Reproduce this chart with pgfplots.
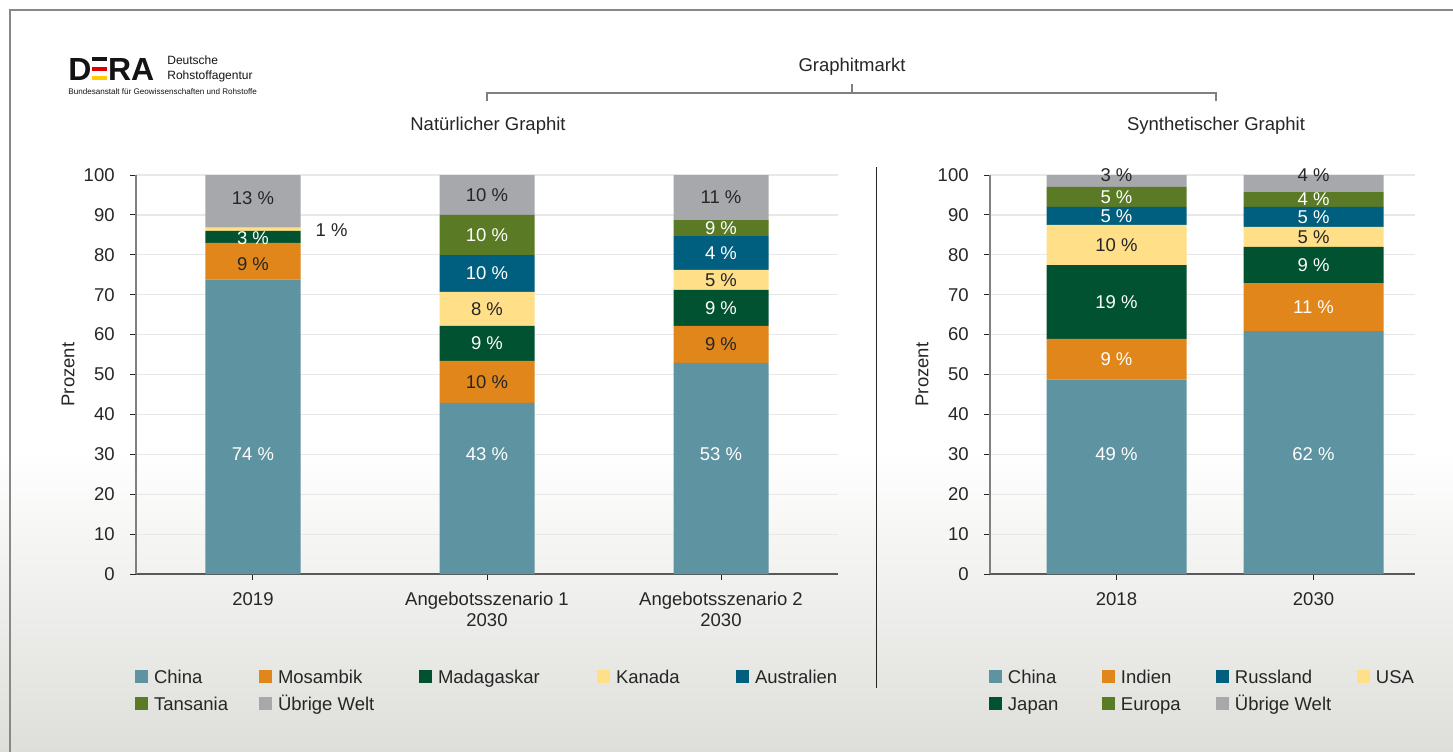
\documentclass[border=0pt]{standalone}
\usepackage{fontspec}
\setmainfont{Liberation Sans}
\usepackage{pgfplots}
\pgfplotsset{compat=1.18}
\definecolor{cChina}{RGB}{94,147,161}
\definecolor{cOrange}{RGB}{224,134,26}
\definecolor{cDGreen}{RGB}{0,82,48}
\definecolor{cYellow}{RGB}{255,223,136}
\definecolor{cBlue}{RGB}{0,95,126}
\definecolor{cOlive}{RGB}{90,122,38}
\definecolor{cGrey}{RGB}{167,168,172}
\definecolor{txt}{RGB}{38,38,38}
\definecolor{gridc}{RGB}{232,232,232}
\definecolor{axx}{RGB}{89,89,89}
\definecolor{axy}{RGB}{128,128,128}
\definecolor{bgbot}{RGB}{222,222,218}
\definecolor{framec}{RGB}{136,136,136}
\definecolor{dera}{RGB}{20,20,20}
\definecolor{deraRed}{RGB}{221,0,0}
\definecolor{deraGold}{RGB}{255,204,0}
\newcommand\mainfs{\fontsize{9.25}{10.5}\selectfont}

\pgfplotsset{
  geom/.style={scale only axis, height=199.5pt, ymin=0, ymax=100, clip=false},
  barax/.style={geom, ybar stacked,
    axis lines*=left,
    ytick={0,10,...,100}, ymajorgrids,
    major grid style={color=gridc, line width=0.6pt},
    tick align=outside, major tick length=3pt,
    tick style={color=txt, line width=0.5pt},
    x axis line style={color=axx, line width=0.7pt},
    y axis line style={color=axy, line width=0.8pt},
    /pgf/number format/assume math mode=true,
    tick label style={font=\mainfs, color=txt},
    yticklabel style={anchor=east, inner xsep=0pt, xshift=-7.5pt},
    xticklabel style={anchor=north, align=center, inner sep=0pt, yshift=-6pt},
    ylabel={Prozent}, ylabel style={font=\mainfs, color=txt, anchor=center},
    every axis plot/.append style={draw=none},
  },
  labax/.style={geom, hide axis,
    legend image code/.code={\fill[##1, draw=none] (0pt,-2.2pt) rectangle (6.5pt,4.3pt);},
    legend style={draw=none, fill=none, inner sep=0pt, outer sep=0pt,
      font=\mainfs, text=txt, legend cell align=left,
      row sep=4.8pt,
      nodes={inner ysep=0pt, inner xsep=3pt, text height=6.8pt, text depth=1.9pt}},
  },
  wlab/.style={only marks, mark=*, mark size=0pt, mark options={draw=none, fill=none},
    forget plot, point meta=explicit symbolic, nodes near coords,
    every node near coord/.append style={anchor=center, text=white, font=\mainfs, inner sep=0pt}},
  dlab/.style={wlab, every node near coord/.append style={text=txt}},
}

\begin{document}
\begin{tikzpicture}
\useasboundingbox (0,0) rectangle (726.5pt,-375.5pt);
\fill[white] (0,0) rectangle (726.5pt,-375.5pt);
\shade[top color=white, bottom color=bgbot] (0,-225pt) rectangle (726.5pt,-375.5pt);
\draw[framec, line width=1pt] (5pt,-376pt) -- (5pt,-5pt) -- (727pt,-5pt);

% logo
\node[anchor=base west, inner sep=0pt, font=\fontsize{16}{16}\selectfont\bfseries, text=dera] at (34pt,-40pt) {D};
\fill[dera] (46pt,-28.5pt) rectangle (53.5pt,-30.6pt);
\fill[deraRed] (46pt,-33.6pt) rectangle (53.5pt,-35.7pt);
\fill[deraGold] (46pt,-37.9pt) rectangle (53.5pt,-40pt);
\node[anchor=base west, inner sep=0pt, font=\fontsize{16}{16}\selectfont\bfseries, text=dera] at (53.8pt,-40pt) {RA};
\node[anchor=base west, inner sep=0pt, font=\fontsize{6.0}{7}\selectfont, text=dera] at (83.5pt,-32.3pt) {Deutsche};
\node[anchor=base west, inner sep=0pt, font=\fontsize{6.0}{7}\selectfont, text=dera] at (83.5pt,-39.5pt) {Rohstoffagentur};
\node[anchor=base west, inner sep=0pt, font=\fontsize{4.05}{5}\selectfont, text=dera] at (34pt,-47.3pt) {Bundesanstalt für Geowissenschaften und Rohstoffe};

% headings
\node[font=\mainfs, text=txt] at (426pt,-33.5pt) {Graphitmarkt};
\draw[axy, line width=0.6pt] (243.5pt,-50.5pt) -- (243.5pt,-46.5pt) -- (608pt,-46.5pt) -- (608pt,-50.5pt);
\draw[axy, line width=0.6pt] (426pt,-46.5pt) -- (426pt,-42pt);
\node[font=\mainfs, text=txt] at (244pt,-63pt) {Natürlicher Graphit};
\node[font=\mainfs, text=txt] at (608pt,-63pt) {Synthetischer Graphit};
\draw[txt, line width=0.5pt] (438pt,-83.5pt) -- (438pt,-344pt);

% ---------- natural graphite
\begin{axis}[barax, at={(68pt,-287pt)}, anchor=south west, width=351pt,
  bar width=47.5pt, xmin=-0.5, xmax=2.5,
  xtick={0,1,2}, xticklabels={2019,Angebotsszenario 1\\2030,Angebotsszenario 2\\2030},
  ylabel style={at={(axis description cs:-0.0969,0.5)}}]
\addplot[fill=cChina] coordinates {(0,73.8) (1,42.9) (2,52.9)};
\addplot[fill=cOrange] coordinates {(0,9.2) (1,10.5) (2,9.3)};
\addplot[fill=cDGreen] coordinates {(0,3.0) (1,8.8) (2,9.0)};
\addplot[fill=cYellow] coordinates {(0,0.8) (1,8.5) (2,5.0)};
\addplot[fill=cBlue] coordinates {(0,0) (1,9.2) (2,8.5)};
\addplot[fill=cOlive] coordinates {(0,0) (1,10.1) (2,4.0)};
\addplot[fill=cGrey] coordinates {(0,13.2) (1,10.0) (2,11.3)};
\end{axis}
\begin{axis}[labax, at={(68pt,-287pt)}, anchor=south west, width=351pt,
  xmin=-0.5, xmax=2.5,
  legend columns=5,
  legend style={at={(axis description cs:-0.0014,-0.2406)}, anchor=north west}]
\addlegendimage{fill=cChina}\addlegendentry{\makebox[49.5pt][l]{China}}
\addlegendimage{fill=cOrange}\addlegendentry{\makebox[67.5pt][l]{Mosambik}}
\addlegendimage{fill=cDGreen}\addlegendentry{\makebox[76.5pt][l]{Madagaskar}}
\addlegendimage{fill=cYellow}\addlegendentry{\makebox[57pt][l]{Kanada}}
\addlegendimage{fill=cBlue}\addlegendentry{Australien}
\addlegendimage{fill=cOlive}\addlegendentry{\makebox[49.5pt][l]{Tansania}}
\addlegendimage{fill=cGrey}\addlegendentry{\makebox[67.5pt][l]{Übrige Welt}}
\addplot[wlab] coordinates {(0,30)[74 \%] (0,84.2)[3 \%]
  (1,30)[43 \%] (1,57.8)[9 \%] (1,75.3)[10 \%] (1,84.95)[10 \%]
  (2,30)[53 \%] (2,66.7)[9 \%] (2,80.45)[4 \%] (2,86.7)[9 \%]};
\addplot[dlab] coordinates {(0,77.6)[9 \%] (0,94.2)[13 \%] (0.336,86.2)[1 \%]
  (1,48.1)[10 \%] (1,66.45)[8 \%] (1,95)[10 \%]
  (2,57.55)[9 \%] (2,73.7)[5 \%] (2,94.35)[11 \%]};
\end{axis}

% ---------- synthetic graphite
\begin{axis}[barax, at={(495pt,-287pt)}, anchor=south west, width=212.5pt,
  bar width=70pt, xmin=-0.642, xmax=1.515,
  xtick={0,1}, xticklabels={2018,2030},
  ylabel style={at={(axis description cs:-0.16,0.5)}}]
\addplot[fill=cChina] coordinates {(0,48.7) (1,60.9)};
\addplot[fill=cOrange] coordinates {(0,10.2) (1,12.0)};
\addplot[fill=cDGreen] coordinates {(0,18.5) (1,9.1)};
\addplot[fill=cYellow] coordinates {(0,10.1) (1,5.0)};
\addplot[fill=cBlue] coordinates {(0,4.5) (1,5.0)};
\addplot[fill=cOlive] coordinates {(0,5.0) (1,3.7)};
\addplot[fill=cGrey] coordinates {(0,3.0) (1,4.3)};
\end{axis}
\begin{axis}[labax, at={(495pt,-287pt)}, anchor=south west, width=212.5pt,
  xmin=-0.642, xmax=1.515,
  legend columns=4,
  legend style={at={(axis description cs:-0.0024,-0.2406)}, anchor=north west}]
\addlegendimage{fill=cChina}\addlegendentry{\makebox[44pt][l]{China}}
\addlegendimage{fill=cOrange}\addlegendentry{\makebox[44.5pt][l]{Indien}}
\addlegendimage{fill=cBlue}\addlegendentry{\makebox[58pt][l]{Russland}}
\addlegendimage{fill=cYellow}\addlegendentry{USA}
\addlegendimage{fill=cDGreen}\addlegendentry{\makebox[44pt][l]{Japan}}
\addlegendimage{fill=cOlive}\addlegendentry{\makebox[44.5pt][l]{Europa}}
\addlegendimage{fill=cGrey}\addlegendentry{\makebox[58pt][l]{Übrige Welt}}
\addplot[wlab] coordinates {(0,30)[49 \%] (0,53.8)[9 \%] (0,68.15)[19 \%] (0,89.75)[5 \%] (0,94.5)[5 \%]
  (1,30)[62 \%] (1,66.9)[11 \%] (1,77.45)[9 \%] (1,89.5)[5 \%] (1,93.85)[4 \%]};
\addplot[dlab] coordinates {(0,82.45)[10 \%] (0,100)[3 \%]
  (1,84.5)[5 \%] (1,100)[4 \%]};
\end{axis}
\end{tikzpicture}
\end{document}
